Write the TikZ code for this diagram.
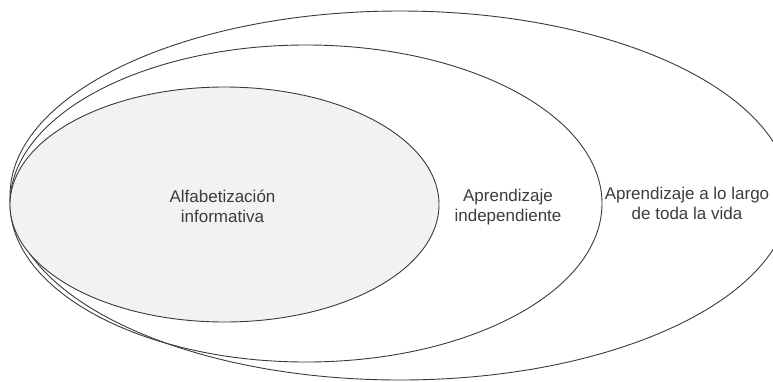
\documentclass[tikz,border=0pt]{standalone}
\usepackage{fontspec}
\setmainfont{Liberation Sans}
\definecolor{linecol}{HTML}{3A3A3A}
\definecolor{txtcol}{HTML}{3C3C3C}
\definecolor{fillcol}{HTML}{F2F2F2}
\tikzset{
  ring/.style={draw=linecol, line width=0.9pt},
  lbl/.style={text=txtcol, align=center, inner sep=0pt, font=\fontsize{17pt}{20pt}\selectfont}
}
\begin{document}
\begin{tikzpicture}[x=1pt,y=-1pt]
\useasboundingbox (0,0) rectangle (773,381);
\begin{scope}
\clip (0,0) rectangle (773,381);
\draw[ring] (400,195.5) ellipse [x radius=390pt, y radius=184.5pt];
\draw[ring] (306,203.5) ellipse [x radius=296pt, y radius=158.5pt];
\draw[ring, fill=fillcol] (224.5,204.5) ellipse [x radius=214.5pt, y radius=117.5pt];
\end{scope}
\node[lbl] (info) at (222.5,206) {Alfabetización\\informativa};
\node[lbl] (indep) at (508,207) {Aprendizaje\\independiente};
\node[lbl] (vida) at (687,203) {Aprendizaje a lo largo\\de toda la vida};
\end{tikzpicture}
\end{document}
